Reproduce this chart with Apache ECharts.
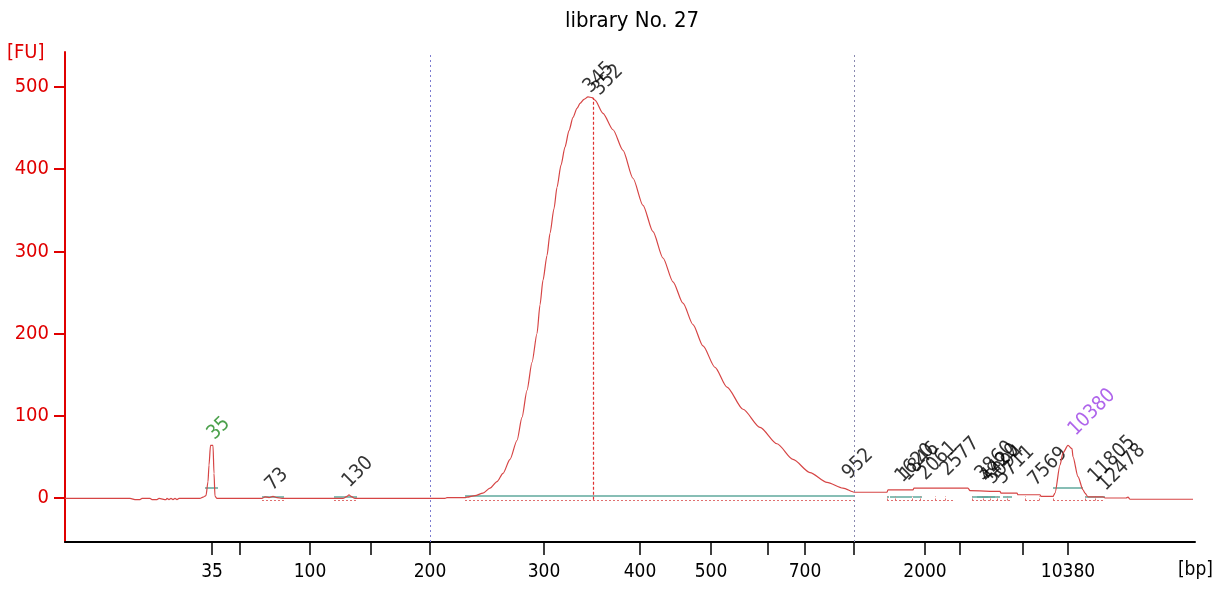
<!DOCTYPE html>
<html lang="en">

<head>
    <meta charset="UTF-8" />
    <title>library No. 27</title>
    <script src="https://cdn.jsdelivr.net/npm/echarts@6.0.0/dist/echarts.min.js"></script>
    <style>
        html, body { margin: 0; padding: 0; background: #fff; }
    </style>
</head>

<body>
    <div id="main" style="width: 1216px; height: 590px"></div>
    <script type="text/javascript">
        // migration time [s] of the ladder fragments and their sizes [bp]
        const ladderBp = [35, 50, 100, 150, 200, 300, 400, 500, 600, 700, 1000, 2000, 3000, 7000, 10380];
        const ladderTime = [34.7, 37.5, 44.5, 50.6, 56.5, 67.9, 77.5, 84.6, 90.3, 94.0, 98.9, 106.0, 109.5, 115.8, 120.3];
        const labeledBp = [35, 100, 200, 300, 400, 500, 700, 2000, 10380];

        // electropherogram trace: time [s] / fluorescence [FU]
        const traceTime = [
            20.0, 26.5, 27.1, 27.5, 27.7, 28.5, 28.7, 29.2, 29.4, 30.1, 30.2, 30.4, 30.6, 30.8, 31.0, 31.2, 31.4,
            33.5, 33.8, 34.1, 34.3, 34.4, 34.55, 34.8, 34.9, 35.0, 35.2,
            39.7, 40.0, 40.4, 40.8, 41.2, 41.7,
            47.8, 48.2, 48.4, 48.6, 49.0,
            58.0, 58.2, 60.0,
            60.2, 61.0, 61.8, 62.5, 63.2, 63.8, 64.5, 65.2, 65.7, 66.2, 66.7, 67.2, 67.5, 67.8, 68.2, 68.5,
            68.9, 69.2, 69.6, 70.0, 70.4, 70.8, 71.2, 71.5, 71.9, 72.3, 72.7, 73.0, 73.8, 74.8, 75.8, 76.8,
            77.8, 78.8, 79.8, 80.8, 81.8, 82.8, 83.8, 85.0, 86.2, 87.8, 89.5, 91.2, 92.8, 94.5, 96.2, 97.8, 99.0,
            102.2, 102.3, 104.8, 104.9, 110.3, 110.5, 113.5, 113.6, 115.2, 115.3, 117.5, 117.6, 118.8,
            119.0, 119.5, 119.8, 120.3, 120.7, 120.8, 121.3, 121.8, 122.0, 122.3, 123.8, 124.0,
            126.1, 126.3, 126.5, 132.8
        ];
        const traceFU = [
            -0.5, -0.5, -2, -2, -0.5, -0.5, -2, -2, -0.5, -2, -0.5, -2, -0.5, -2, -0.5, -2, -0.5,
            -0.5, 1, 3, 20, 40, 64, 64, 30, 2, -0.5,
            -0.5, 1.5, 0.5, 2, 0.5, -0.5,
            -0.5, 2, 4, 2, -0.5,
            -0.5, 0.5, 0.5,
            1, 3, 6, 12, 20, 30, 47, 70, 98, 131, 165, 200, 235, 265, 295, 322,
            352, 378, 405, 427, 447, 463, 474, 480, 485, 488, 487, 484, 468, 448, 423, 389,
            356, 324, 292, 263, 237, 211, 185, 159, 135, 108, 86, 66, 47, 31, 19, 12, 7,
            7, 10, 10, 12, 12, 9, 8, 6, 6, 4, 4, 2, 2,
            6, 40, 55, 64, 60, 50, 26, 10, 6, 1.5, 1.5, 0,
            0, 1, -1.5, -1.5
        ];

        // called peaks: size label, label anchor time, label anchor height, colour
        const peakText = ["35", "73", "130", "345", "352", "952", "1620", "1846", "2061", "2577",
            "3860", "4420", "5094", "5711", "7569", "10380", "11805", "12478"];
        const peakTime = [34.2, 40.0, 47.7, 71.8, 72.7, 97.7, 103.0, 103.5, 105.3, 107.5,
            111.0, 111.5, 112.0, 113.0, 116.3, 120.3, 122.3, 123.3];
        const peakFU = [74, 12, 16, 496, 493, 26, 22, 24, 25, 30,
            25, 22, 20, 20, 18, 79, 22, 12];
        const peakColor = ["#1f8a1f", "#000", "#000", "#000", "#000", "#000", "#000", "#000", "#000", "#000",
            "#000", "#000", "#000", "#000", "#000", "#9b3fe6", "#000", "#000"];

        // peak baselines [from, to, FU]
        const baseFrom = [34.0, 39.7, 46.9, 60.0, 102.2, 102.5, 104.8, 110.7, 111.2, 111.7, 113.8, 118.8, 122.0];
        const baseTo = [35.3, 41.9, 49.2, 99.0, 102.4, 104.7, 105.7, 112.3, 113.0, 113.5, 114.7, 121.8, 124.0];
        const baseFU = [12, 1.5, 1.5, 2.5, 1.5, 1.5, 1.5, 1.5, 1.5, 1.5, 1.5, 13, 1.5];

        // integration region bounds [from, to] at the bottom
        const regionFrom = [39.7, 46.9, 60.0, 102.2, 110.7, 116.0, 118.8];
        const regionTo = [41.9, 49.2, 99.0, 109.0, 114.7, 117.5, 124.0];
        const regionTicks = [102.2, 103.0, 104.7, 105.5, 107.0, 108.0, 110.7, 111.8, 112.5, 113.2, 114.2, 116.0, 117.4, 118.8, 122.0, 123.0];

        const fontName = "'DejaVu Sans Condensed', 'Liberation Sans Narrow', 'DejaVu Sans', sans-serif";

        const trace = traceTime.map((t, i) => [t, traceFU[i]]);
        const peaks = peakText.map((txt, i) => ({
            name: txt,
            value: [peakTime[i], peakFU[i]],
            label: { color: peakColor[i] }
        }));
        const baseLines = baseFrom.map((f, i) => ({ coords: [[f, baseFU[i]], [baseTo[i], baseFU[i]]] }));
        const regionLines = regionFrom.map((f, i) => ({ coords: [[f, -3], [regionTo[i], -3]] }))
            .concat(regionTicks.map((t) => ({ coords: [[t, -3], [t, 2.5]] })));

        const peakMarkStyle = { color: "#e03030", type: [3, 2], width: 1.2 };

        let options = {
            animation: false,
            title: {
                text: "library No. 27",
                left: 627,
                textAlign: "center",
                top: 5,
                textStyle: { fontFamily: fontName, fontSize: 22, fontWeight: "normal", color: "#000" }
            },
            grid: { left: 65, right: 21, top: 52, bottom: 48 },
            xAxis: {
                type: "value",
                min: 20,
                max: 133,
                splitLine: { show: false },
                axisLine: { onZero: false, lineStyle: { color: "#000", width: 2 } },
                axisTick: {
                    customValues: ladderTime,
                    length: 13,
                    lineStyle: { color: "#000", width: 1.5 }
                },
                axisLabel: {
                    customValues: labeledBp.map((bp) => ladderTime[ladderBp.indexOf(bp)]),
                    formatter: (v) => {
                        const i = ladderTime.indexOf(v);
                        return i >= 0 ? String(ladderBp[i]) : "";
                    },
                    margin: 21,
                    color: "#000",
                    fontFamily: fontName,
                    fontSize: 19
                }
            },
            yAxis: {
                type: "value",
                min: -53.5,
                max: 542.6,
                splitLine: { show: false },
                axisLine: { show: true, lineStyle: { color: "#e00000", width: 2 } },
                axisTick: {
                    show: true,
                    customValues: [0, 100, 200, 300, 400, 500],
                    length: 11,
                    lineStyle: { color: "#e00000", width: 2 }
                },
                axisLabel: {
                    customValues: [0, 100, 200, 300, 400, 500],
                    margin: 16,
                    color: "#e00000",
                    fontFamily: fontName,
                    fontSize: 20
                }
            },
            graphic: [
                {
                    type: "text", left: 7, top: 43,
                    style: { text: "[FU]", fill: "#e00000", font: "20px " + fontName }
                },
                {
                    type: "text", right: 3, top: 561,
                    style: { text: "[bp]", fill: "#000", font: "19px " + fontName }
                }
            ],
            series: [
                {
                    name: "baselines",
                    type: "lines",
                    coordinateSystem: "cartesian2d",
                    silent: true,
                    lineStyle: { color: "#5fa89c", width: 1.5, opacity: 1 },
                    data: baseLines
                },
                {
                    name: "regions",
                    type: "lines",
                    coordinateSystem: "cartesian2d",
                    silent: true,
                    lineStyle: { color: "#e07070", width: 1, type: [2, 2], opacity: 1 },
                    data: regionLines
                },
                {
                    name: "trace",
                    type: "line",
                    data: trace,
                    showSymbol: false,
                    smooth: 0.25,
                    smoothMonotone: "x",
                    lineStyle: { color: "#d64545", width: 1.2 },
                    markLine: {
                        silent: true,
                        symbol: "none",
                        label: { show: false },
                        data: [
                            { xAxis: 56.5, lineStyle: { color: "#7b7bd0", type: [2, 3], width: 1 } },
                            { xAxis: 98.9, lineStyle: { color: "#8a8ab0", type: [2, 3], width: 1 } },
                            [
                                { coord: [72.8, -2], lineStyle: peakMarkStyle },
                                { coord: [72.8, 487], lineStyle: peakMarkStyle }
                            ]
                        ]
                    }
                },
                {
                    name: "peaks",
                    type: "scatter",
                    data: peaks,
                    symbolSize: 1,
                    silent: true,
                    itemStyle: { color: "transparent" },
                    label: {
                        show: true,
                        formatter: (p) => p.name,
                        position: [0, 0],
                        offset: [3, 13],
                        align: "left",
                        verticalAlign: "bottom",
                        rotate: 45,
                        fontFamily: fontName,
                        fontSize: 20
                    }
                }
            ]
        };

        let myChart = echarts.init(document.getElementById("main"));
        myChart.setOption(options);
    </script>
</body>

</html>
